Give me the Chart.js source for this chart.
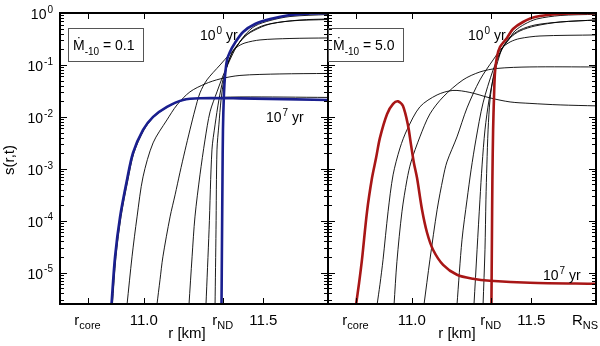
<!DOCTYPE html>
<html>
<head>
<meta charset="utf-8">
<script src="https://cdn.jsdelivr.net/npm/chart.js@4.4.1/dist/chart.umd.min.js"></script>
<style>
  html, body { margin: 0; padding: 0; background: #fff; }
  #wrap { position: relative; width: 600px; height: 346px; overflow: hidden; background: #fff; }
  #wrap canvas { position: absolute; top: 0; }
  #left { left: 0; }
  #right { left: 320px; }
</style>
</head>
<body>
<div id="wrap">
  <canvas id="left" width="330" height="346"></canvas>
  <canvas id="right" width="280" height="346"></canvas>
</div>
<script>
// --- Axes ---
const xMin = 10.65, xMax = 11.77;
const yMin = 2.5e-6, yMax = 1;
const xTicks = [10.765, 11.0, 11.33, 11.5, 11.77];
const xTickText = [['r', 'core'], ['11.0', ''], ['r', 'ND'], ['11.5', ''], ['R', 'NS']];
const yDecades = [0, -1, -2, -3, -4, -5];

// --- Mdot-10 = 0.1 (left), r in km, s(r,t) ---
const lo_t0_r = [11.325, 11.327, 11.329, 11.331, 11.335, 11.340, 11.348, 11.360, 11.381, 11.415, 11.465, 11.528, 11.611, 11.695, 11.77];
const lo_t0_s = [2.4e-6, 4.31e-5, 6.14e-4, 5.62e-3, 0.0265, 0.0642, 0.125, 0.178, 0.265, 0.431, 0.614, 0.767, 0.915, 0.978, 1.0];
const lo_t7_r = [10.865, 10.880, 10.901, 10.930, 10.955, 10.997, 11.039, 11.097, 11.164, 11.235, 11.402, 11.77];
const lo_t7_s = [2.4e-6, 2.03e-5, 1.19e-4, 6.14e-4, 2.03e-3, 5.62e-3, 0.0100, 0.0156, 0.0212, 0.0229, 0.0227, 0.0212];
const lo_b1_r = [10.869, 10.884, 10.905, 10.934, 10.959, 11.001, 11.043, 11.101, 11.168, 11.239, 11.402, 11.77];
const lo_b1_s = [2.4e-6, 2.03e-5, 1.19e-4, 6.14e-4, 2.03e-3, 5.62e-3, 0.0100, 0.0156, 0.0212, 0.0229, 0.0242, 0.0237];
const lo_b2_r = [10.930, 10.951, 10.972, 10.997, 11.039, 11.097, 11.139, 11.193, 11.256, 11.319, 11.402, 11.569, 11.77];
const lo_b2_s = [2.4e-6, 2.03e-5, 1.19e-4, 7.02e-4, 3.16e-3, 8.75e-3, 0.0170, 0.0303, 0.0431, 0.0538, 0.0628, 0.0671, 0.0686];
const lo_b3_r = [11.055, 11.068, 11.080, 11.110, 11.131, 11.151, 11.172, 11.193, 11.214, 11.235, 11.264, 11.319, 11.360, 11.390, 11.423, 11.486, 11.611, 11.77];
const lo_b3_s = [2.4e-6, 7.33e-6, 2.03e-5, 1.19e-4, 3.16e-4, 8.38e-4, 2.22e-3, 5.62e-3, 0.0136, 0.0290, 0.0515, 0.100, 0.163, 0.222, 0.265, 0.303, 0.323, 0.331];
const lo_b4_r = [11.189, 11.202, 11.214, 11.235, 11.256, 11.277, 11.306, 11.331, 11.360, 11.385, 11.415, 11.457, 11.528, 11.653, 11.77];
const lo_b4_s = [2.4e-6, 2.03e-5, 1.19e-4, 7.67e-4, 3.61e-3, 0.0125, 0.0303, 0.0614, 0.125, 0.212, 0.331, 0.451, 0.614, 0.733, 0.767];
const lo_b5_r = [11.260, 11.273, 11.285, 11.298, 11.314, 11.331, 11.352, 11.373, 11.402, 11.444, 11.507, 11.611, 11.77];
const lo_b5_s = [2.4e-6, 6.71e-5, 2.32e-3, 7.02e-3, 0.0212, 0.0515, 0.109, 0.186, 0.277, 0.431, 0.588, 0.702, 0.75];
const lo_b6_r = [11.298, 11.302, 11.306, 11.314, 11.323, 11.335, 11.352, 11.369, 11.390, 11.423, 11.465, 11.528, 11.611, 11.77];
const lo_b6_s = [2.4e-6, 6.71e-5, 2.32e-3, 7.02e-3, 0.0212, 0.0515, 0.109, 0.170, 0.232, 0.378, 0.562, 0.717, 0.856, 0.936];

// --- Mdot-10 = 5.0 (right) ---
const hi_t0_r = [11.333, 11.335, 11.337, 11.340, 11.344, 11.348, 11.356, 11.369, 11.398, 11.423, 11.465, 11.515, 11.620, 11.77];
const hi_t0_s = [2.4e-6, 4.31e-5, 6.14e-4, 5.62e-3, 0.0265, 0.0733, 0.142, 0.222, 0.331, 0.492, 0.671, 0.838, 0.957, 1.0];
const hi_t7_r = [10.767, 10.780, 10.792, 10.813, 10.834, 10.851, 10.867, 10.897, 10.922, 10.943, 10.963, 10.984, 10.997, 11.009, 11.022, 11.043, 11.064, 11.089, 11.131, 11.189, 11.256, 11.327, 11.494, 11.77];
const hi_t7_s = [2.4e-6, 6.42e-6, 1.78e-5, 1.49e-4, 6.71e-4, 1.63e-3, 3.95e-3, 0.0114, 0.0178, 0.0199, 0.0163, 7.02e-3, 2.89e-3, 1.30e-3, 6.71e-4, 1.63e-4, 5.88e-5, 2.77e-5, 1.42e-5, 9.15e-6, 7.67e-6, 7.02e-6, 6.42e-6, 6.14e-6];
const hi_b1_r = [10.855, 10.867, 10.880, 10.901, 10.922, 10.951, 10.980, 11.034, 11.106, 11.172, 11.243, 11.327, 11.411, 11.494, 11.620, 11.77];
const hi_b1_s = [2.4e-6, 5.88e-6, 1.78e-5, 1.49e-4, 7.67e-4, 2.53e-3, 5.62e-3, 0.0156, 0.0265, 0.0323, 0.0296, 0.0232, 0.0194, 0.0182, 0.0170, 0.0163];
const hi_b2_r = [10.926, 10.938, 10.959, 10.980, 10.997, 11.034, 11.076, 11.131, 11.214, 11.285, 11.356, 11.494, 11.77];
const hi_b2_s = [2.4e-6, 1.63e-5, 1.49e-4, 6.14e-4, 1.36e-3, 4.12e-3, 0.0114, 0.0242, 0.0515, 0.0733, 0.0856, 0.0915, 0.0915];
const hi_b3_r = [11.051, 11.076, 11.106, 11.131, 11.147, 11.189, 11.231, 11.285, 11.340, 11.377, 11.411, 11.452, 11.536, 11.77];
const hi_b3_s = [2.4e-6, 1.78e-5, 1.63e-4, 6.71e-4, 1.36e-3, 4.12e-3, 0.0149, 0.0515, 0.125, 0.212, 0.277, 0.323, 0.361, 0.378];
const hi_b4_r = [11.189, 11.210, 11.231, 11.248, 11.268, 11.298, 11.340, 11.377, 11.411, 11.452, 11.515, 11.620, 11.77];
const hi_b4_s = [2.4e-6, 4.31e-5, 2.53e-4, 9.57e-4, 3.61e-3, 0.0186, 0.0801, 0.203, 0.331, 0.451, 0.562, 0.671, 0.733];
const hi_b5_r = [11.260, 11.273, 11.285, 11.294, 11.306, 11.323, 11.344, 11.365, 11.381, 11.411, 11.452, 11.515, 11.620, 11.77];
const hi_b5_s = [2.4e-6, 2.77e-5, 2.53e-4, 1.19e-3, 5.62e-3, 0.0212, 0.0642, 0.142, 0.222, 0.345, 0.471, 0.588, 0.671, 0.733];
const hi_b6_r = [11.298, 11.306, 11.310, 11.314, 11.319, 11.327, 11.340, 11.356, 11.377, 11.406, 11.431, 11.473, 11.523, 11.620, 11.77];
const hi_b6_s = [2.4e-6, 2.77e-5, 2.53e-4, 1.19e-3, 5.62e-3, 0.0212, 0.0562, 0.125, 0.203, 0.309, 0.451, 0.614, 0.767, 0.895, 0.944];

const FONT = "'Liberation Sans', Arial, Helvetica, sans-serif";
const BLUE = '#1a1f8f';
const RED = '#a81616';

const curve = (r, s, color, width, order) => ({
  data: r.map((x, i) => ({ x, y: s[i] })),
  showLine: true,
  borderColor: color,
  borderWidth: width,
  pointRadius: 0,
  tension: 0.3,
  fill: false,
  clip: 1,
  order
});

const thin = (r, s) => curve(r, s, '#000', 0.9, 2);

// "10" with a raised exponent and optional tail text
const drawPow = (ctx, x, y, base, exp, tail, size, align) => {
  const small = Math.round(size * 0.7);
  ctx.font = `${size}px ${FONT}`;
  const wb = ctx.measureText(base).width;
  const wt = tail ? ctx.measureText(tail).width : 0;
  ctx.font = `${small}px ${FONT}`;
  const we = ctx.measureText(exp).width;
  const x0 = align === 'right' ? x - (wb + 1 + we + wt) : x;
  ctx.textAlign = 'left';
  ctx.font = `${size}px ${FONT}`;
  ctx.fillText(base, x0, y);
  ctx.font = `${small}px ${FONT}`;
  ctx.fillText(exp, x0 + wb + 1, y - size * 0.45);
  if (tail) {
    ctx.font = `${size}px ${FONT}`;
    ctx.fillText(tail, x0 + wb + 1 + we, y);
  }
};

// main text with a lowered subscript, centered (or right aligned) on x
const drawSub = (ctx, x, y, main, sub, size, align) => {
  const small = Math.round(size * 0.72);
  ctx.font = `${size}px ${FONT}`;
  const wm = ctx.measureText(main).width;
  ctx.font = `${small}px ${FONT}`;
  const ws = sub ? ctx.measureText(sub).width : 0;
  const w = wm + ws;
  const x0 = align === 'right' ? x - w : x - w / 2;
  ctx.textAlign = 'left';
  ctx.font = `${size}px ${FONT}`;
  ctx.fillText(main, x0, y);
  if (sub) {
    ctx.font = `${small}px ${FONT}`;
    ctx.fillText(sub, x0 + wm, y + 4);
  }
};

const panelPlugin = {
  id: 'panel',
  afterDatasetsDraw(chart, args, opts) {
    const { ctx, chartArea: a, scales: { x, y } } = chart;
    const side = opts.side;
    ctx.save();
    ctx.strokeStyle = '#000';
    ctx.fillStyle = '#000';

    // log ticks on both vertical edges, pointing inward
    ctx.lineWidth = 1;
    ctx.beginPath();
    for (let d = 0; d >= -6; d--) {
      for (let m = 1; m <= 9; m++) {
        const v = m * Math.pow(10, d);
        if (v < yMin || v > yMax) continue;
        const py = Math.round(y.getPixelForValue(v)) + 0.5;
        const len = m === 1 ? 7 : 4;
        ctx.moveTo(a.left, py); ctx.lineTo(a.left + len, py);
        ctx.moveTo(a.right, py); ctx.lineTo(a.right - len, py);
      }
    }
    xTicks.forEach(v => {
      const px = Math.round(x.getPixelForValue(v)) + 0.5;
      ctx.moveTo(px, a.bottom); ctx.lineTo(px, a.bottom - 6);
      ctx.moveTo(px, a.top); ctx.lineTo(px, a.top + 6);
    });
    ctx.stroke();

    // frame
    ctx.lineWidth = 2;
    ctx.strokeRect(a.left, a.top, a.right - a.left, a.bottom - a.top);

    // x tick labels
    ctx.textBaseline = 'alphabetic';
    xTicks.forEach((v, i) => {
      const [main, sub] = xTickText[i];
      const px = x.getPixelForValue(v);
      if (i === xTicks.length - 1) {
        if (side === 'right') drawSub(ctx, chart.width - 2, 325, main, sub, 15, 'right');
        return;
      }
      drawSub(ctx, px, 325, main, sub, 15, 'center');
    });

    // axis title
    ctx.font = `15px ${FONT}`;
    ctx.textAlign = 'center';
    ctx.fillText('r [km]', side === 'left' ? 187 : 137, 338);

    if (side === 'left') {
      yDecades.forEach(d => {
        const py = y.getPixelForValue(Math.pow(10, d));
        drawPow(ctx, 53, py + 6, '10', String(d), '', 14, 'right');
      });
      ctx.save();
      ctx.translate(14, 160);
      ctx.rotate(-Math.PI / 2);
      ctx.font = `15px ${FONT}`;
      ctx.textAlign = 'center';
      ctx.fillText('s(r,t)', 0, 0);
      ctx.restore();
    }

    // legend box with accretion rate
    const bx = side === 'left' ? 68 : 8;
    ctx.strokeStyle = '#555';
    ctx.lineWidth = 1;
    ctx.strokeRect(bx + 0.5, 28.5, 75, 33);
    ctx.font = `14px ${FONT}`;
    ctx.textAlign = 'left';
    ctx.fillText('Ṁ', bx + 5, 50);
    const wM = ctx.measureText('Ṁ').width;
    ctx.font = `10px ${FONT}`;
    ctx.fillText('-10', bx + 5 + wM, 55);
    const wS = ctx.measureText('-10').width;
    ctx.font = `14px ${FONT}`;
    ctx.fillText(' = ' + opts.mdot, bx + 5 + wM + wS, 50);

    // time labels
    if (side === 'left') {
      drawPow(ctx, 200, 40, '10', '0', ' yr', 14, 'left');
      drawPow(ctx, 266, 122, '10', '7', ' yr', 14, 'left');
    } else {
      drawPow(ctx, 148, 40, '10', '0', ' yr', 14, 'left');
      drawPow(ctx, 223, 280, '10', '7', ' yr', 14, 'left');
    }
    ctx.restore();
  }
};

const makeChart = (id, datasets, pad, side, mdot) => new Chart(document.getElementById(id), {
  type: 'scatter',
  data: { datasets },
  options: {
    responsive: false,
    animation: false,
    devicePixelRatio: 1,
    layout: { padding: pad },
    scales: {
      x: { type: 'linear', min: xMin, max: xMax, display: false },
      y: { type: 'logarithmic', min: yMin, max: yMax, display: false }
    },
    plugins: {
      legend: { display: false },
      tooltip: { enabled: false },
      panel: { side, mdot }
    }
  },
  plugins: [panelPlugin]
});

makeChart('left', [
  curve(lo_t0_r, lo_t0_s, BLUE, 2.6, 0),
  curve(lo_t7_r, lo_t7_s, BLUE, 2.6, 0),
  thin(lo_b1_r, lo_b1_s),
  thin(lo_b2_r, lo_b2_s),
  thin(lo_b3_r, lo_b3_s),
  thin(lo_b4_r, lo_b4_s),
  thin(lo_b5_r, lo_b5_s),
  thin(lo_b6_r, lo_b6_s)
], { left: 60, top: 13, right: 2, bottom: 42 }, 'left', '0.1');

makeChart('right', [
  curve(hi_t0_r, hi_t0_s, RED, 2.6, 0),
  curve(hi_t7_r, hi_t7_s, RED, 2.6, 0),
  thin(hi_b1_r, hi_b1_s),
  thin(hi_b2_r, hi_b2_s),
  thin(hi_b3_r, hi_b3_s),
  thin(hi_b4_r, hi_b4_s),
  thin(hi_b5_r, hi_b5_s),
  thin(hi_b6_r, hi_b6_s)
], { left: 8, top: 13, right: 4, bottom: 42 }, 'right', '5.0');
</script>
</body>
</html>
